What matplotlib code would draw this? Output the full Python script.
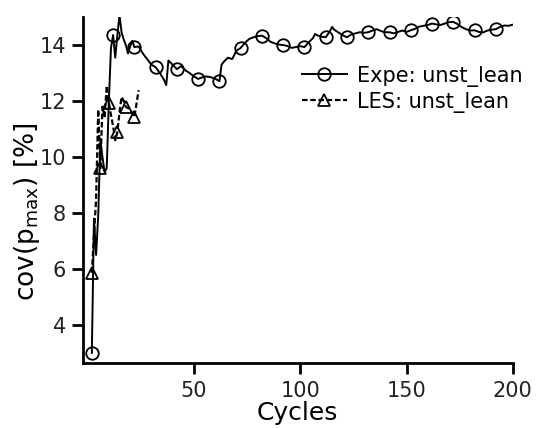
import numpy as np
import matplotlib
matplotlib.use("Agg")
import matplotlib.pyplot as plt

# Expe: unst_lean
expe_x = [2, 3, 4, 5, 6, 7, 8, 9, 10, 11, 12, 13, 14, 15, 16, 17, 18, 19, 20, 21,
          22, 24, 26, 28, 30, 32, 34, 36, 37, 38, 40, 42, 44, 46, 48, 50,
          52, 54, 56, 58, 60, 62, 63, 64, 66, 68, 70, 72, 74, 76, 78, 80,
          82, 84, 86, 88, 90, 92, 94, 96, 98, 100, 102, 104, 106, 107, 108, 110,
          112, 114, 115, 116, 118, 120, 122, 124, 126, 128, 130, 132, 134, 136, 138, 140,
          142, 144, 146, 148, 150, 152, 154, 156, 158, 160, 162, 164, 166, 168, 170,
          172, 174, 176, 178, 180, 182, 184, 186, 188, 190, 192, 194, 196, 198, 200]
expe_y = [3.0, 7.8, 6.5, 7.9, 10.6, 10.0, 9.46, 9.6, 12.0, 13.9, 14.36, 13.55, 14.35, 15.07, 14.45, 14.2, 14.0, 13.7, 13.95, 14.15,
          13.93, 13.95, 13.7, 13.5, 13.3, 13.21, 13.0, 12.75, 12.57, 13.45, 13.3, 13.14, 13.25, 13.1, 13.0, 12.88,
          12.79, 12.85, 12.88, 12.85, 12.8, 12.71, 13.3, 13.4, 13.55, 13.5, 13.8, 13.9, 14.08, 14.22, 14.28, 14.32,
          14.34, 14.25, 14.12, 14.06, 14.02, 14.0, 13.97, 13.9, 13.93, 13.96, 13.93, 14.1, 14.25, 14.4, 14.35, 14.3,
          14.28, 14.5, 14.65, 14.55, 14.45, 14.35, 14.28, 14.38, 14.42, 14.46, 14.44, 14.46, 14.52, 14.57, 14.5, 14.46,
          14.46, 14.42, 14.47, 14.52, 14.47, 14.53, 14.58, 14.66, 14.69, 14.72, 14.77, 14.74, 14.72, 14.77, 14.82,
          14.83, 14.75, 14.64, 14.57, 14.52, 14.53, 14.47, 14.45, 14.52, 14.55, 14.57, 14.65, 14.7, 14.69, 14.73]

# LES: unst_lean
les_x = [2, 3, 4, 5, 6, 7, 8, 9, 10, 11, 12, 13, 14, 15, 16, 17, 18, 19, 20, 21, 22, 23, 24]
les_y = [5.86, 7.2, 8.5, 11.7, 9.6, 11.8, 11.4, 12.55, 11.93, 11.5, 11.1, 10.6, 10.89, 11.6, 12.15, 12.0, 11.79, 11.75, 11.7, 11.55, 11.43, 11.9, 12.39]

xticks = [50, 100, 150, 200]
yticks = [4, 6, 8, 10, 12, 14]

expe_marks = [i for i, v in enumerate(expe_x) if v % 10 == 2]
les_marks = [i for i, v in enumerate(les_x) if v % 4 == 2]

fig = plt.figure(figsize=(5.37, 4.28), dpi=100)
ax = fig.add_axes([0.154, 0.152, 0.801, 0.808])

ax.plot(expe_x, expe_y, color='black', lw=1.4, marker='o', markersize=9,
        markerfacecolor='none', markeredgewidth=1.3, markevery=expe_marks,
        label='Expe: unst_lean')
ax.plot(les_x, les_y, color='black', lw=1.6, ls=(0, (2.5, 1.2)), marker='^',
        markersize=8, markerfacecolor='none', markeredgewidth=1.3,
        markevery=les_marks, label='LES: unst_lean')

ax.set_xlim(-2.3, 200)
ax.set_ylim(2.64, 15.0)
ax.set_xticks(xticks)
ax.set_yticks(yticks)

for side in ['top', 'right']:
    ax.spines[side].set_visible(False)
for side in ['left', 'bottom']:
    ax.spines[side].set_linewidth(2)
ax.tick_params(direction='out', length=8, width=2, labelsize=15, colors='black',
               labelcolor='#222222')
ax.tick_params(axis='x', pad=5)
ax.tick_params(axis='y', pad=4)

ax.set_xlabel('Cycles', fontsize=18)
ax.xaxis.set_label_coords(0.5, -0.11, transform=ax.transAxes)
ax.xaxis.label.set_va('top')
ax.set_ylabel(r'cov(p$_{\mathrm{max}}$) [%]', fontsize=19)
ax.yaxis.set_label_coords(-0.095, 0.436)

leg = ax.legend(loc='upper left', bbox_to_anchor=(0.51, 0.86), frameon=False,
                fontsize=15, handlelength=2.15, handletextpad=0.5, labelspacing=0.25,
                borderaxespad=0, borderpad=0)

fig.savefig('out.png', dpi=100)
